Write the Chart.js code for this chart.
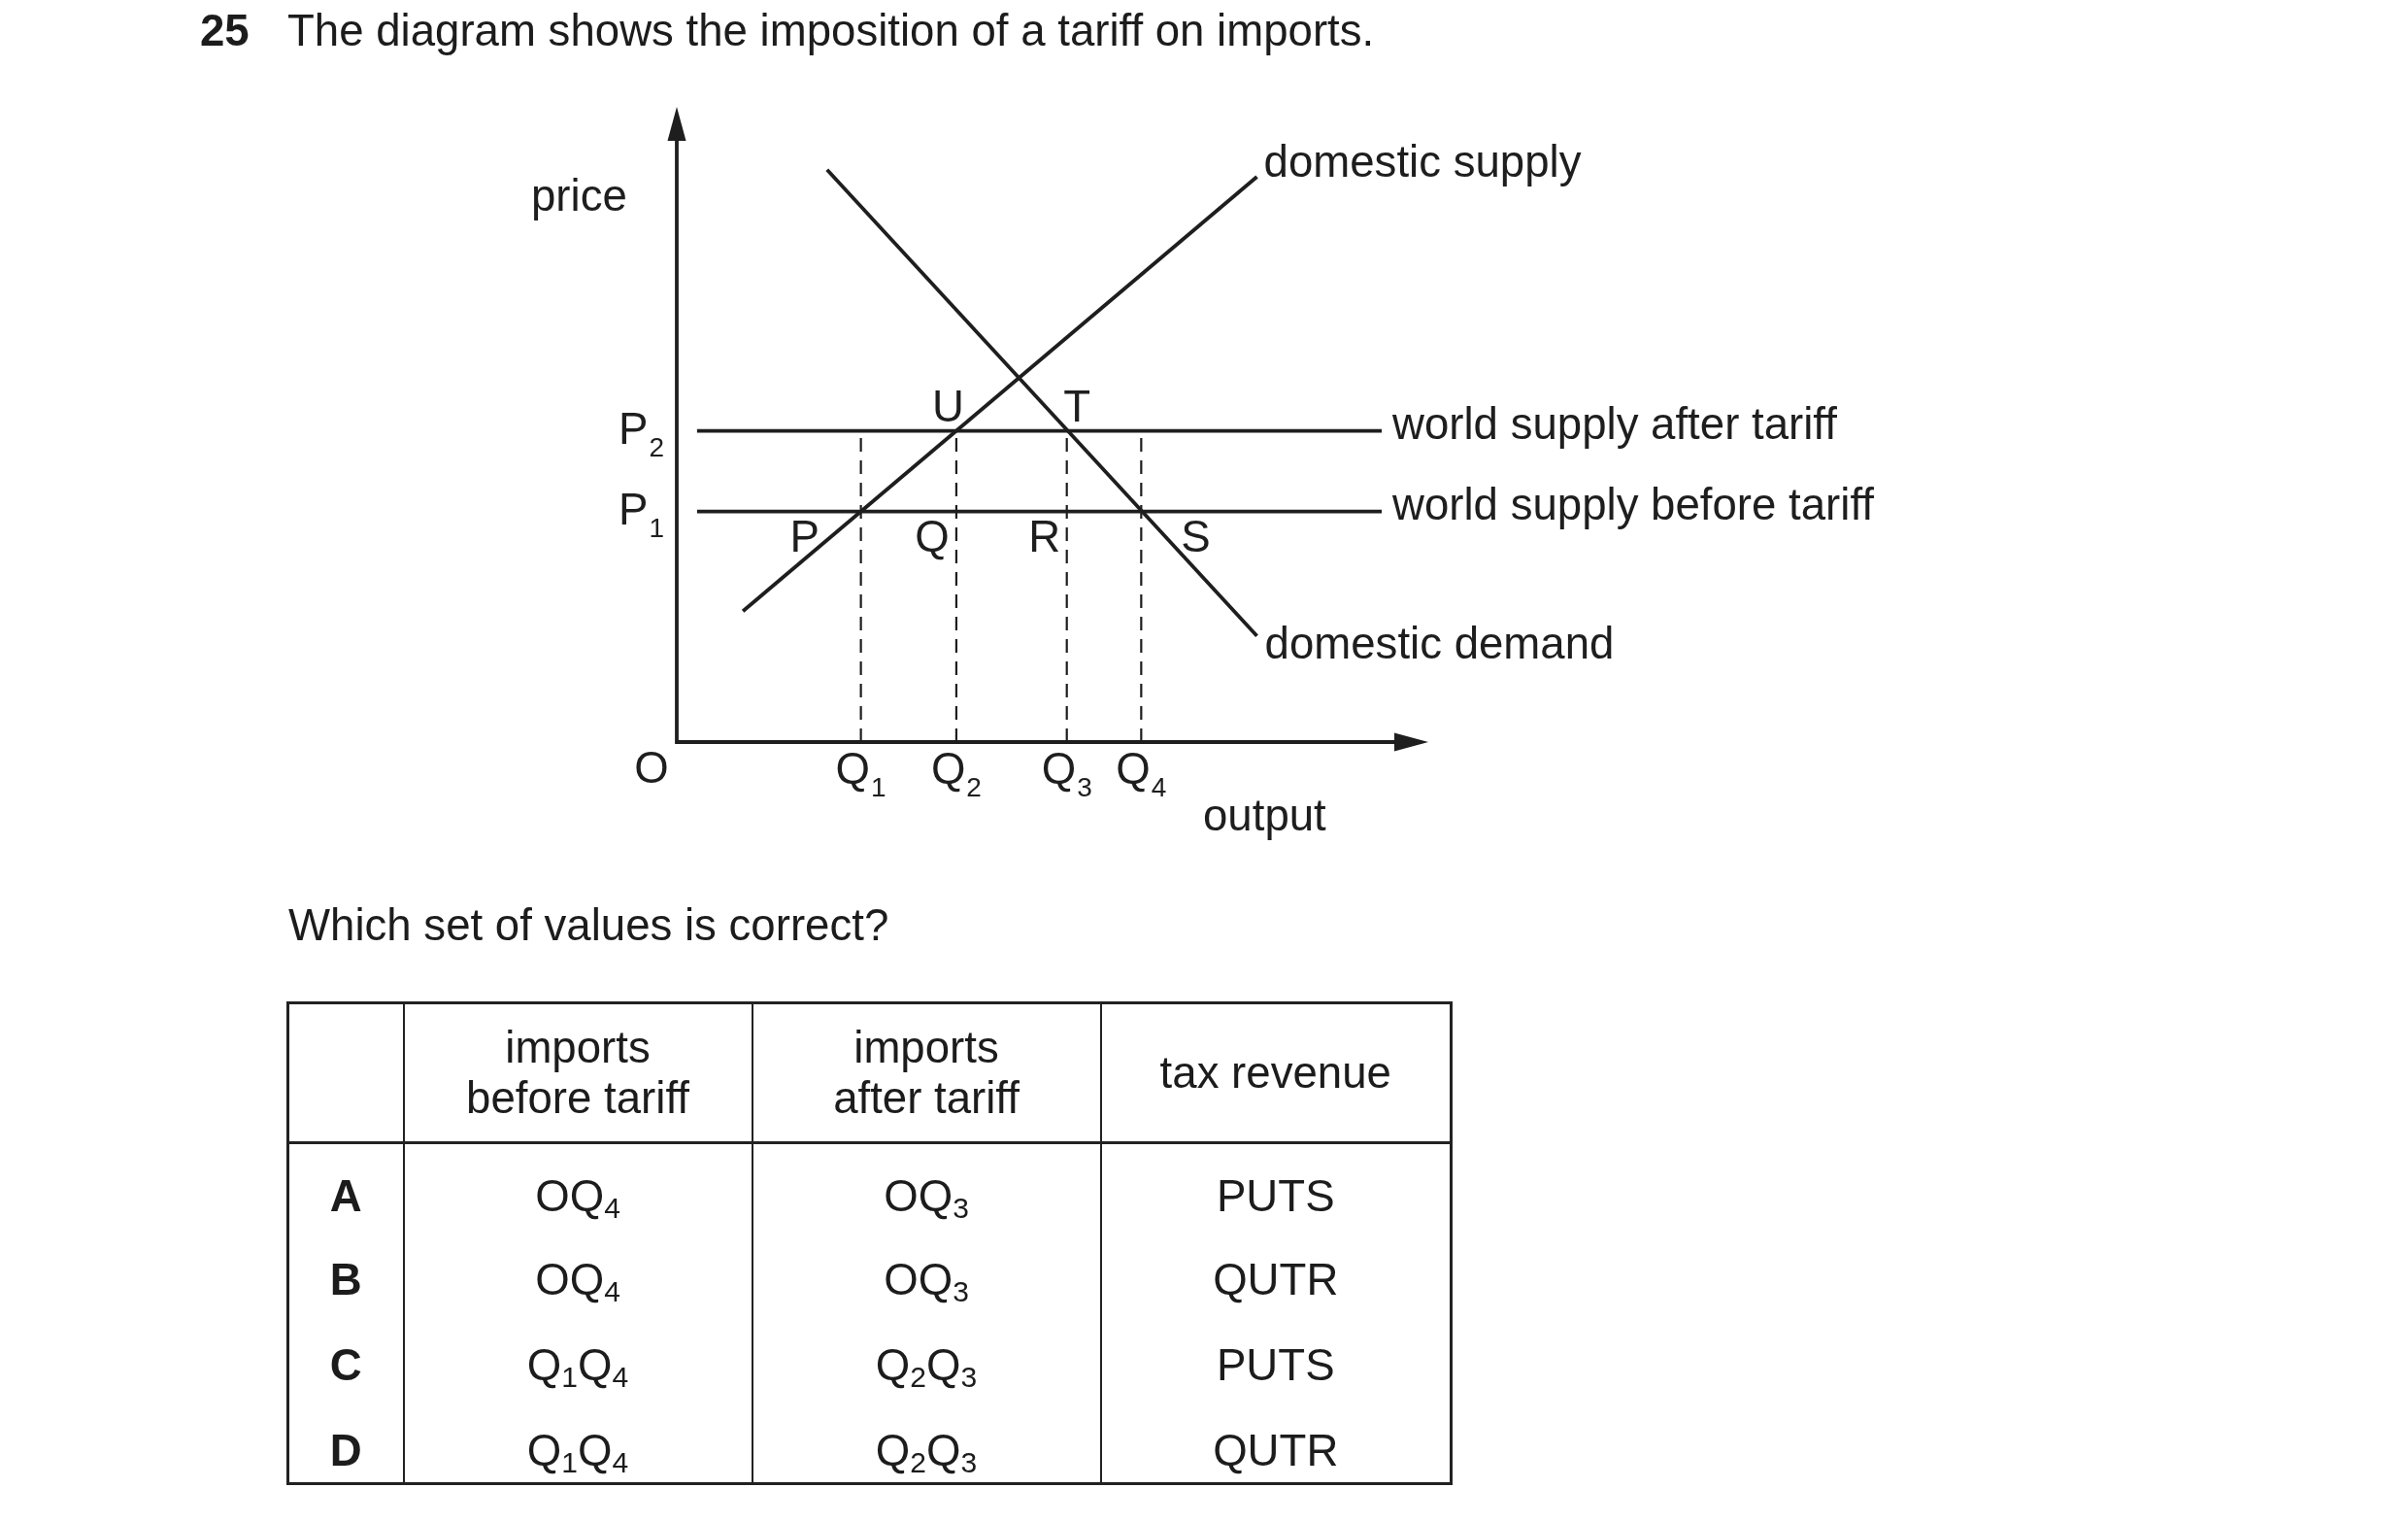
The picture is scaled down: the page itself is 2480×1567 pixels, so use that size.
<!DOCTYPE html>
<html>
<head>
<meta charset="utf-8">
<title>Tariff on imports</title>
<script src="https://cdn.jsdelivr.net/npm/chart.js@4.4.1/dist/chart.umd.min.js"></script>
<style>
  body {
    margin: 0;
    width: 2480px;
    height: 1567px;
    position: relative;
    overflow: hidden;
    background: #fff;
    color: #1c1c1c;
    font-family: "Liberation Sans", Arial, sans-serif;
  }
  #diagram { position: absolute; left: 0; top: 0; }
  .txt {
    position: absolute;
    font-size: 45.6px;
    line-height: 52px;
    white-space: nowrap;
  }
  #answers {
    position: absolute;
    left: 295px;
    top: 1031px;
    width: 1198px;
    border-collapse: collapse;
    table-layout: fixed;
    border: 3px solid #222;
    font-size: 45.6px;
    line-height: 52px;
    text-align: center;
  }
  #answers td, #answers th {
    padding: 0;
    border-left: 2px solid #222;
    border-right: 2px solid #222;
    font-weight: normal;
  }
  #answers thead tr { height: 144px; }
  #answers thead th { vertical-align: middle; border-bottom: 3px solid #222; }
  #answers tbody tr { height: 87.8px; }
  #answers tbody td { vertical-align: top; padding-top: 28px; }
  #answers tbody td.key { font-weight: bold; }
  #answers sub { font-size: 30px; vertical-align: -7px; line-height: 0; }
</style>
</head>
<body>
<canvas id="diagram" width="2480" height="1567"></canvas>

<div class="txt" style="left:206px; top:6px; font-weight:bold;">25</div>
<div class="txt" style="left:296px; top:6px;">The diagram shows the imposition of a tariff on imports.</div>
<div class="txt" style="left:297px; top:927px;">Which set of values is correct?</div>

<table id="answers">
  <colgroup>
    <col style="width:119px">
    <col style="width:359px">
    <col style="width:359px">
    <col style="width:361px">
  </colgroup>
  <thead>
    <tr>
      <th></th>
      <th>imports<br>before tariff</th>
      <th>imports<br>after tariff</th>
      <th>tax revenue</th>
    </tr>
  </thead>
  <tbody id="answerRows"></tbody>
</table>

<script>
// diagram values (output on x, price on y, 0-100 units)
const quantityLabels = ['Q', 'Q', 'Q', 'Q'];
const quantitySubs = ['1', '2', '3', '4'];
const quantityValues = [24.5, 37.2, 51.9, 61.8];
const priceSubs = ['1', '2'];
const priceValues = [36.3, 49.0];          // P1 (before tariff), P2 (after tariff)
const worldSupplyX = [2.7, 93.8];
const supplyX = [8.8, 77.2];
const supplyY = [20.6, 89.0];
const demandX = [20.0, 77.2];
const demandY = [90.1, 16.7];

// answer table
const optionKeys = ['A', 'B', 'C', 'D'];
const importsBefore = ['OQ<sub>4</sub>', 'OQ<sub>4</sub>', 'Q<sub>1</sub>Q<sub>4</sub>', 'Q<sub>1</sub>Q<sub>4</sub>'];
const importsAfter = ['OQ<sub>3</sub>', 'OQ<sub>3</sub>', 'Q<sub>2</sub>Q<sub>3</sub>', 'Q<sub>2</sub>Q<sub>3</sub>'];
const taxRevenue = ['PUTS', 'QUTR', 'PUTS', 'QUTR'];

var rows = document.getElementById('answerRows');
optionKeys.forEach(function (k, i) {
  var tr = document.createElement('tr');
  tr.innerHTML = '<td class="key">' + k + '</td><td>' + importsBefore[i] + '</td><td>' +
    importsAfter[i] + '</td><td>' + taxRevenue[i] + '</td>';
  rows.appendChild(tr);
});

var INK = '#1e1e1e';
var FONT = '45.6px "Liberation Sans", Arial, sans-serif';
var SUBFONT = '28px "Liberation Sans", Arial, sans-serif';

function pts(xs, ys) {
  return xs.map(function (x, i) { return { x: x, y: ys[i] }; });
}

function label(ctx, main, sub, x, y, align) {
  ctx.font = FONT;
  var w1 = ctx.measureText(main).width;
  ctx.font = SUBFONT;
  var w2 = sub ? ctx.measureText(sub).width + 1 : 0;
  var left = x;
  if (align === 'center') left = x - (w1 + w2) / 2;
  if (align === 'right') left = x - w1 - w2;
  ctx.textAlign = 'left';
  ctx.textBaseline = 'alphabetic';
  ctx.font = FONT;
  ctx.fillText(main, left, y);
  if (sub) {
    ctx.font = SUBFONT;
    ctx.fillText(sub, left + w1 + 1, y + 13);
  }
}

// axes with arrow heads
var axesPlugin = {
  id: 'axes',
  beforeDatasetsDraw: function (chart) {
    var ctx = chart.ctx, xs = chart.scales.x, ys = chart.scales.y;
    var x0 = xs.getPixelForValue(0), y0 = ys.getPixelForValue(0);
    var xEnd = xs.getPixelForValue(100), yEnd = ys.getPixelForValue(100);
    ctx.save();
    ctx.strokeStyle = INK;
    ctx.fillStyle = INK;
    ctx.lineWidth = 3.8;
    ctx.lineJoin = 'miter';
    ctx.beginPath();
    ctx.moveTo(x0, yEnd + 30);
    ctx.lineTo(x0, y0);
    ctx.lineTo(xEnd - 30, y0);
    ctx.stroke();
    ctx.beginPath();
    ctx.moveTo(x0, yEnd);
    ctx.lineTo(x0 - 9.5, yEnd + 35);
    ctx.lineTo(x0 + 9.5, yEnd + 35);
    ctx.closePath();
    ctx.fill();
    ctx.beginPath();
    ctx.moveTo(xEnd, y0);
    ctx.lineTo(xEnd - 35, y0 - 9.5);
    ctx.lineTo(xEnd - 35, y0 + 9.5);
    ctx.closePath();
    ctx.fill();
    ctx.restore();
  }
};

// every text label of the diagram
var labelsPlugin = {
  id: 'labels',
  afterDatasetsDraw: function (chart) {
    var ctx = chart.ctx, xs = chart.scales.x, ys = chart.scales.y;
    var x0 = xs.getPixelForValue(0), y0 = ys.getPixelForValue(0);
    var yEnd = ys.getPixelForValue(100);
    var qx = quantityValues.map(function (q) { return xs.getPixelForValue(q); });
    var p1 = ys.getPixelForValue(priceValues[0]);
    var p2 = ys.getPixelForValue(priceValues[1]);
    var lineEnd = xs.getPixelForValue(worldSupplyX[1]);
    ctx.save();
    ctx.fillStyle = INK;

    label(ctx, 'price', null, x0 - 150, yEnd + 107, 'left');
    label(ctx, 'O', null, x0 - 26, y0 + 41.5, 'center');
    label(ctx, 'P', priceSubs[1], x0 - 13, p2 + 13, 'right');
    label(ctx, 'P', priceSubs[0], x0 - 13, p1 + 13, 'right');
    quantityLabels.forEach(function (q, i) {
      label(ctx, q, quantitySubs[i], qx[i], y0 + 43, 'center');
    });
    label(ctx, 'output', null, x0 + 542, y0 + 91, 'left');

    // corner letters
    label(ctx, 'P', null, qx[0] - 58, p1 + 41, 'center');
    label(ctx, 'Q', null, qx[1] - 25, p1 + 41, 'center');
    label(ctx, 'R', null, qx[2] - 23, p1 + 41, 'center');
    label(ctx, 'S', null, qx[3] + 56, p1 + 41, 'center');
    label(ctx, 'U', null, qx[1] - 8.5, p2 - 9.5, 'center');
    label(ctx, 'T', null, qx[2] + 10.5, p2 - 9.5, 'center');

    // curve names
    label(ctx, 'domestic supply', null,
      xs.getPixelForValue(supplyX[1]) + 7, ys.getPixelForValue(supplyY[1]), 'left');
    label(ctx, 'domestic demand', null,
      xs.getPixelForValue(demandX[1]) + 8, ys.getPixelForValue(demandY[1]) + 23, 'left');
    label(ctx, 'world supply after tariff', null, lineEnd + 11, p2 + 8, 'left');
    label(ctx, 'world supply before tariff', null, lineEnd + 11, p1 + 8, 'left');
    ctx.restore();
  }
};

var solid = { borderColor: INK, borderWidth: 3.8, pointRadius: 0, fill: false, tension: 0, clip: false };

var datasets = [
  Object.assign({ label: 'domestic supply', data: pts(supplyX, supplyY) }, solid),
  Object.assign({ label: 'domestic demand', data: pts(demandX, demandY) }, solid),
  Object.assign({ label: 'world supply after tariff',
    data: pts(worldSupplyX, [priceValues[1], priceValues[1]]) }, solid),
  Object.assign({ label: 'world supply before tariff',
    data: pts(worldSupplyX, [priceValues[0], priceValues[0]]) }, solid)
];
quantityValues.forEach(function (q, i) {
  datasets.push({
    label: 'Q' + quantitySubs[i],
    data: [{ x: q, y: 0 }, { x: q, y: priceValues[1] }],
    borderColor: INK,
    borderWidth: 2.2,
    borderDash: [14, 9],
    pointRadius: 0,
    fill: false,
    clip: false
  });
});

var myChart = new Chart(document.getElementById('diagram'), {
  type: 'line',
  data: { datasets: datasets },
  options: {
    responsive: false,
    animation: false,
    events: [],
    layout: { padding: { left: 697, right: 1009, top: 110, bottom: 803 } },
    scales: {
      x: { type: 'linear', min: 0, max: 100, display: false },
      y: { type: 'linear', min: 0, max: 100, display: false }
    },
    plugins: {
      legend: { display: false },
      tooltip: { enabled: false }
    }
  },
  plugins: [axesPlugin, labelsPlugin]
});
</script>
</body>
</html>
